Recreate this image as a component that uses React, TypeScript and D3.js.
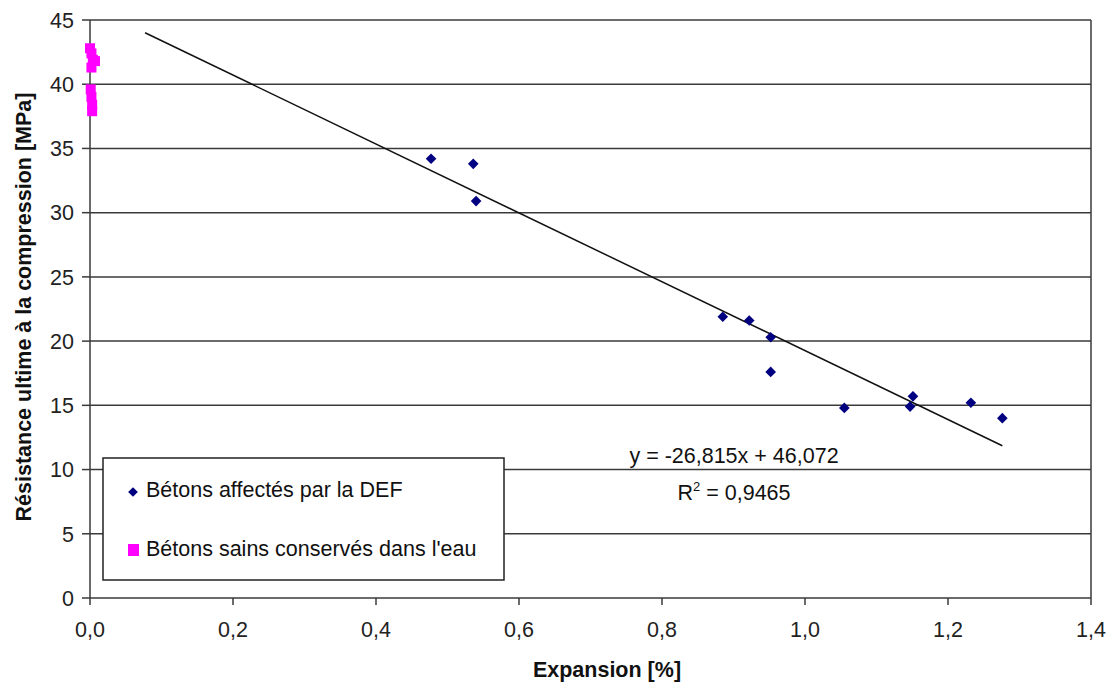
import React from "react";
import * as d3 from "d3";

const defX = [0.477, 0.536, 0.540, 0.885, 0.922, 0.952, 0.952, 1.055, 1.147, 1.151, 1.232, 1.276];
const defY = [34.2, 33.8, 30.9, 21.9, 21.6, 20.3, 17.6, 14.8, 14.9, 15.7, 15.2, 14.0];
const sainX = [0.000, 0.002, 0.004, 0.007, 0.002, 0.001, 0.002, 0.003, 0.003];
const sainY = [42.8, 42.4, 41.9, 41.8, 41.3, 39.6, 39.0, 38.4, 37.9];
const xTicks = [0, 0.2, 0.4, 0.6, 0.8, 1.0, 1.2, 1.4];
const yTicks = [0, 5, 10, 15, 20, 25, 30, 35, 40, 45];
const slope = -26.815;
const intercept = 46.072;
const trendRange = [0.077, 1.276];
const legendLabels = ["Bétons affectés par la DEF", "Bétons sains conservés dans l'eau"];

const W = 1110, H = 682;
const left = 90, right = 1091, top = 20, bottom = 598;
const font = "'Liberation Sans', Arial, sans-serif";
const fs = 21.5;

export default function App() {
  const x = d3.scaleLinear().domain([0, 1.4]).range([left, right]);
  const y = d3.scaleLinear().domain([0, 45]).range([bottom, top]);
  const fmt = (v: number) => v.toFixed(1).replace(".", ",");
  const diamond = d3.symbol().type(d3.symbolDiamond2).size(72)();
  const line = d3.line<number>().x((d) => x(d)).y((d) => y(slope * d + intercept));
  const grid = "#3a3a3a";
  return (
    <svg width={W} height={H} style={{ position: "absolute", left: 0, top: 0, background: "#fff" }}>
      {yTicks.map((t) => (
        <g key={"y" + t}>
          <line x1={left} x2={right} y1={y(t)} y2={y(t)} stroke={grid} strokeWidth={1.5} />
          <line x1={left - 8} x2={left} y1={y(t)} y2={y(t)} stroke={grid} strokeWidth={1.5} />
          <text x={74} y={y(t)} dy="0.36em" textAnchor="end" fontFamily={font} fontSize={fs} fill="#222">{t}</text>
        </g>
      ))}
      {xTicks.map((t) => (
        <g key={"x" + t}>
          <line x1={x(t)} x2={x(t)} y1={bottom} y2={bottom + 7} stroke={grid} strokeWidth={1.5} />
          <text x={x(t)} y={637} textAnchor="middle" fontFamily={font} fontSize={fs} fill="#222">{fmt(t)}</text>
        </g>
      ))}
      <line x1={left} x2={left} y1={top} y2={bottom} stroke={grid} strokeWidth={1.5} />
      <line x1={right} x2={right} y1={top} y2={bottom} stroke={grid} strokeWidth={1.5} />
      <path d={line(trendRange) || ""} fill="none" stroke="#111" strokeWidth={1.5} />
      {sainX.map((v, i) => (
        <rect key={"s" + i} x={x(v) - 5} y={y(sainY[i]) - 5} width={10} height={10} fill="#FF00FF" />
      ))}
      {defX.map((v, i) => (
        <path key={"d" + i} d={diamond || ""} transform={`translate(${x(v)},${y(defY[i])})`} fill="#000080" />
      ))}
      <text x={734} y={463} textAnchor="middle" fontFamily={font} fontSize={fs} fill="#111">y = -26,815x + 46,072</text>
      <text x={734} y={500} textAnchor="middle" fontFamily={font} fontSize={fs} fill="#111">
        R<tspan dy="-9" fontSize={13}>2</tspan><tspan dy="9"> = 0,9465</tspan>
      </text>
      <rect x={103} y={458} width={401} height={122} fill="#fff" stroke="#222" strokeWidth={1.5} />
      <path d={d3.symbol().type(d3.symbolDiamond2).size(60)() || ""} transform="translate(133,492)" fill="#000080" />
      <text x={146} y={497} fontFamily={font} fontSize={fs} fill="#111">{legendLabels[0]}</text>
      <rect x={128} y={544} width={11} height={12} fill="#FF00FF" />
      <text x={146} y={556} fontFamily={font} fontSize={fs} fill="#111">{legendLabels[1]}</text>
      <text x={607} y={677} textAnchor="middle" fontFamily={font} fontSize={fs} fontWeight="bold" fill="#111">Expansion [%]</text>
      <text transform={`translate(31,307) rotate(-90)`} textAnchor="middle" fontFamily={font} fontSize={fs} fontWeight="bold" fill="#111">Résistance ultime à la compression [MPa]</text>
    </svg>
  );
}
